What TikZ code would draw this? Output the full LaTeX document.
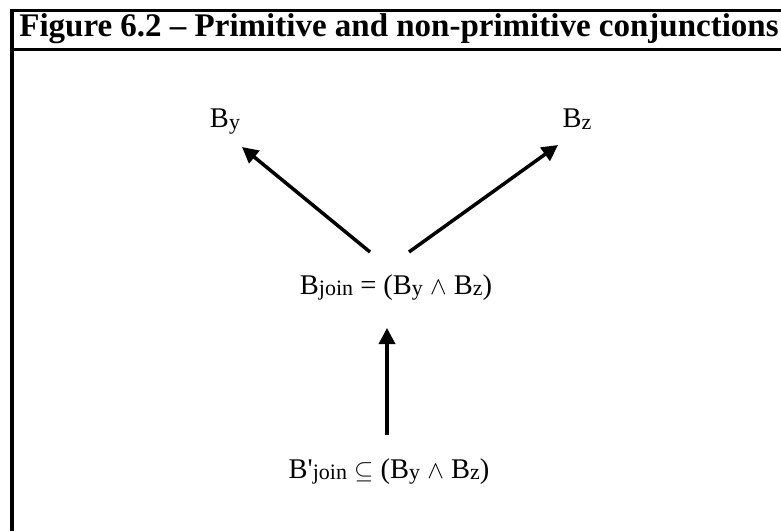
\documentclass[tikz,border=0pt]{standalone}
\usepackage{amsmath}
\usepackage{amssymb}
\usepackage{fontspec}
\setmainfont{Liberation Serif}
\usepackage{tikz}
\usetikzlibrary{arrows.meta,calc}

\newcommand{\lowsub}[1]{\raisebox{-1.5pt}{\fontsize{22}{26}\selectfont #1}}

\begin{document}
\begin{tikzpicture}[x=1pt, y=1pt,
  label/.style={anchor=base, inner sep=0pt, font=\fontsize{28.5}{34}\selectfont},
  arr/.style={-{Triangle[length=16pt, width=16pt]}, line width=3.5pt}]
  \useasboundingbox (0,0) rectangle (781,531);

  % Frame
  \draw[line width=4pt] (12,522) -- (12,0);
  \draw[line width=3pt] (10,520.5) -- (781,520.5);
  \draw[line width=3pt] (12,481) -- (781,481);
  \node[anchor=base, inner sep=0pt, font=\fontsize{33}{38}\selectfont\bfseries] (title) at (399,494) {Figure 6.2 -- Primitive and non-primitive conjunctions};

  % Labels
  \node[label] (by) at (225,403) {B\lowsub{y}};
  \node[label] (bz) at (577,403) {B\lowsub{z}};
  \node[label] (join) at (396,237) {B\lowsub{join} = (B\lowsub{y} $\wedge$ B\lowsub{z})};
  \node[label] (pjoin) at (389,53) {B\textquotesingle\lowsub{join} $\subseteq$ (B\lowsub{y} $\wedge$ B\lowsub{z})};

  % Arrows
  \draw[arr] ($(join.base)+(-26,42)$) -- ($(by.base)+(17,-19)$);
  \draw[arr] ($(join.base)+(13,42)$) -- ($(bz.base)+(-19,-17)$);
  \draw[arr] ($(pjoin.base)+(-2,43)$) -- ($(join.base)+(-9,-34)$);
\end{tikzpicture}
\end{document}
